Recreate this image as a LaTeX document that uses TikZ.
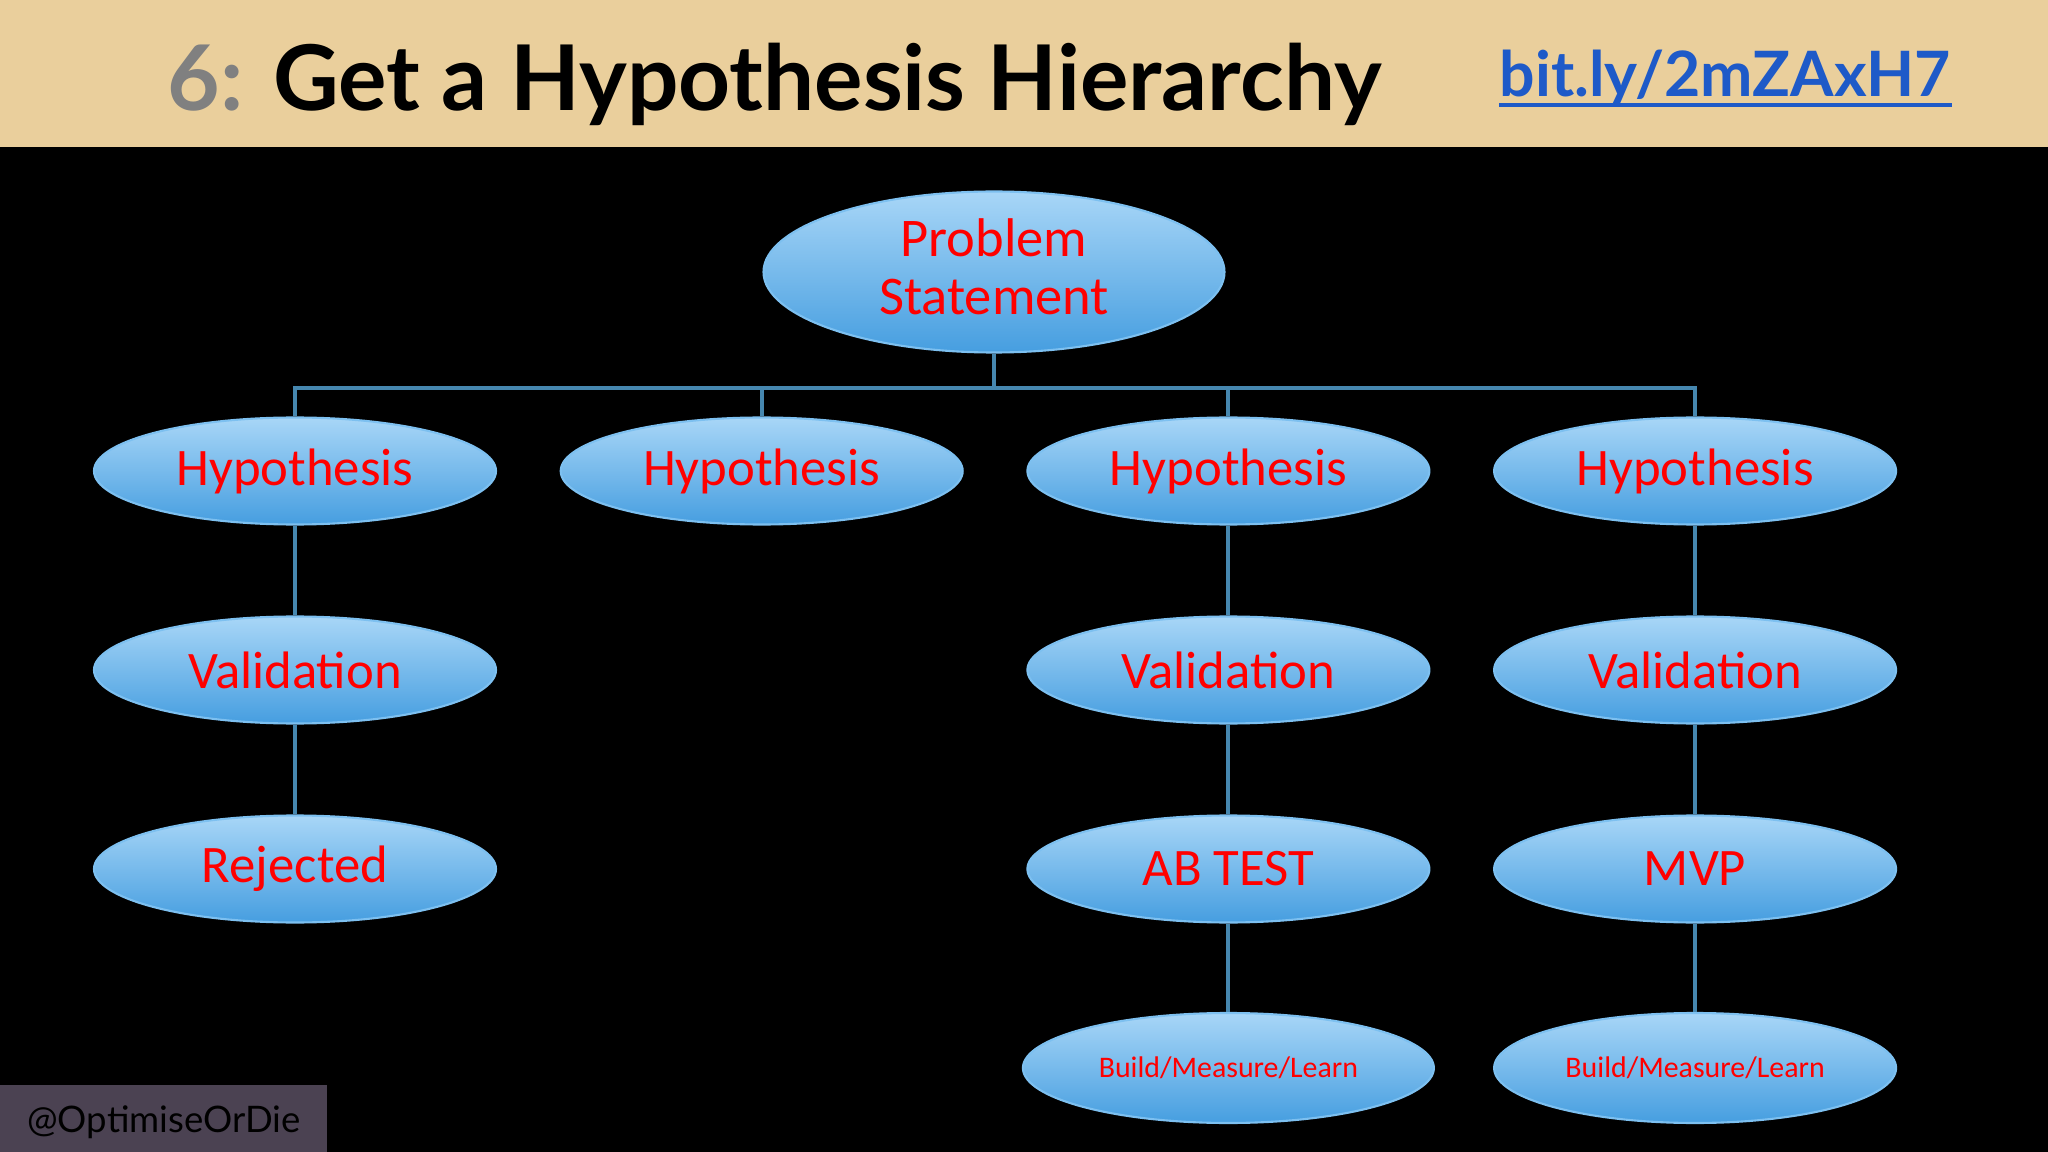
\documentclass[tikz,border=0pt]{standalone}
\usepackage{fontspec}
\setmainfont{Carlito}
\newfontfamily\headfont{Lato}
\usetikzlibrary{shapes.geometric, positioning}
\definecolor{headbeige}{RGB}{234,207,156}
\definecolor{ovaltop}{RGB}{168,214,247}
\definecolor{ovalbot}{RGB}{70,158,224}
\definecolor{ovalrim}{RGB}{125,192,240}
\definecolor{linkblue}{RGB}{30,90,200}
\definecolor{busblue}{RGB}{70,135,175}
\definecolor{tagbox}{RGB}{75,66,82}
\tikzset{
    node distance=1.99cm, % rows
    oval/.style={ % every bubble
        ellipse,
        top color=ovaltop, bottom color=ovalbot,
        draw=ovalrim, semithick,
        minimum width=4.02cm, minimum height=1.07cm,
        inner sep=0pt, text=red,
        font=\fontsize{15}{16}\selectfont
    },
    smalloval/.style={oval, minimum width=4.11cm, minimum height=1.10cm,
        font=\fontsize{8.5}{10}\selectfont},
    wire/.style={draw=busblue, line width=1.1pt}
}
\begin{document}
\begin{tikzpicture}
        \useasboundingbox (0,0) rectangle (20.48,-11.52);
        \fill[black] (0,0) rectangle (20.48,-11.52);
        \fill[headbeige] (0,0) rectangle (20.48,-1.47);

        % kopfzeile
        \node[anchor=base west, inner sep=0pt,
              font=\headfont\bfseries\fontsize{25.8}{30}\selectfont]
              (title) at (1.67,-1.11) {\textcolor{gray}{6:} Get a Hypothesis Hierarchy};
        \node[anchor=base west, inner sep=0pt, text=linkblue,
              font=\headfont\bfseries\fontsize{17.8}{22}\selectfont]
              (url) at (14.99,-0.97) {bit.ly/2mZAxH7};
        \draw[linkblue, line width=1.1pt]
              ([yshift=-0.08cm]url.base west) -- ([yshift=-0.08cm]url.base east);

        % wurzel
        \node[oval, minimum width=4.61cm, minimum height=1.61cm, align=center,
              font=\fontsize{15.5}{16.6}\selectfont]  (ps)   at (9.94,-2.72) {Problem\\Statement\rule[-0.2em]{0pt}{0pt}};
        % erste zeile
        \node[oval]                                   (h1)   at (2.95,-4.71) {Hypothesis};
        \node[oval, right of=h1, node distance=4.667cm] (h2)  {Hypothesis};
        \node[oval, right of=h2, node distance=4.667cm] (h3)  {Hypothesis};
        \node[oval, right of=h3, node distance=4.667cm] (h4)  {Hypothesis};
        % zweite zeile
        \node[oval, below of=h1]                      (v1)        {Validation};
        \node[oval, below of=h3]                      (v3)        {Validation};
        \node[oval, below of=h4]                      (v4)        {Validation};
        % dritte zeile
        \node[oval, below of=v1]                      (rej)       {Rejected};
        \node[oval, below of=v3]                      (ab)        {AB TEST};
        \node[oval, below of=v4]                      (mvp)       {MVP};
        % vierte zeile
        \node[smalloval, below of=ab]                 (bml3)      {Build/Measure/Learn};
        \node[oval, below of=mvp, minimum height=1.10cm,
              font=\fontsize{8.5}{10}\selectfont]    (bml4)      {Build/Measure/Learn};

        \draw[wire]
                (ps.south) -- ++(0,-0.345) -| (h1.north)
                (ps.south) -- ++(0,-0.345) -| (h2.north)
                (ps.south) -- ++(0,-0.345) -| (h3.north)
                (ps.south) -- ++(0,-0.345) -| (h4.north)
                (h1.south) -- (v1.north)
                (v1.south) -- (rej.north)
                (h3.south) -- (v3.north)
                (v3.south) -- (ab.north)
                (ab.south) -- (bml3.north)
                (h4.south) -- (v4.north)
                (v4.south) -- (mvp.north)
                (mvp.south) -- (bml4.north)
        ;

        % fusszeile
        \fill[tagbox] (0,-10.85) rectangle (3.27,-11.52);
        \node[font=\headfont\fontsize{10.4}{13}\selectfont, text=black]
              (tag) at (1.64,-11.22) {@OptimiseOrDie};
    \end{tikzpicture}
\end{document}
